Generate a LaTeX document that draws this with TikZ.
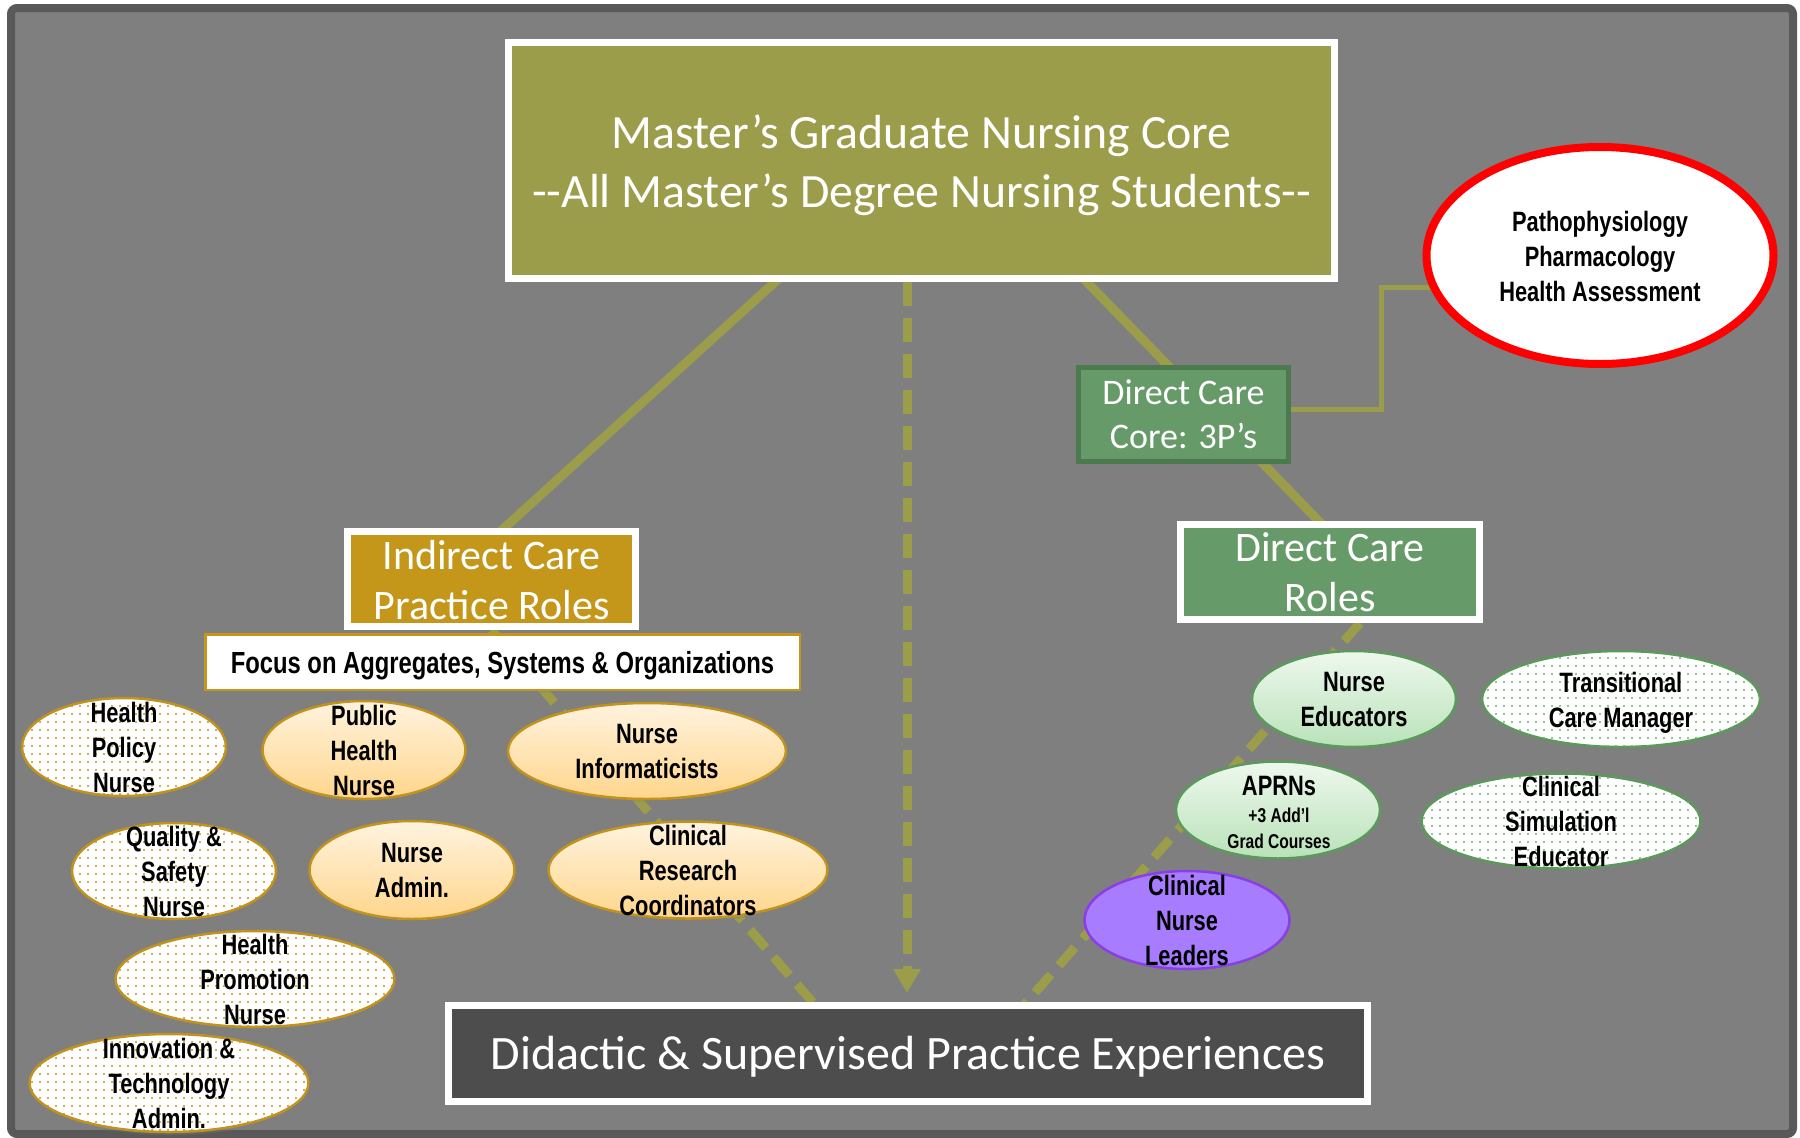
\documentclass[tikz,border=0pt]{standalone}
\usepackage{fontspec}
\setmainfont{Carlito}
\newfontfamily\condfont[FakeStretch=0.78]{Liberation Sans}
\usetikzlibrary{shapes.geometric,arrows.meta,patterns.meta,shadows}
\pgfdeclarelayer{bg}\pgfdeclarelayer{lines}
\pgfsetlayers{bg,lines,main}
\definecolor{bggray}{HTML}{7F7F7F}
\definecolor{framecol}{HTML}{595959}
\definecolor{olive}{HTML}{9B9D4B}
\definecolor{gold}{HTML}{C49619}
\definecolor{goldline}{HTML}{C0921E}
\definecolor{boxgreen}{HTML}{679A69}
\definecolor{darkgreen}{HTML}{4C7A4E}
\definecolor{darkbox}{HTML}{4D4D4D}
\definecolor{purplefill}{HTML}{A87CFF}
\definecolor{purpleline}{HTML}{8A3FE6}
\definecolor{peachtop}{HTML}{FFF3DF}
\definecolor{peachbot}{HTML}{FFD68C}
\definecolor{greentop}{HTML}{EEF8EE}
\definecolor{greenbot}{HTML}{B9E2B9}
\definecolor{greenline}{HTML}{5C9A5C}
\definecolor{dotgreen}{HTML}{6FAF6F}
\tikzset{
  shad/.style={drop shadow={shadow xshift=2pt,shadow yshift=-3pt,opacity=0.3}},
  wbox/.style={draw=white,line width=7pt,text=white,align=center,inner sep=0pt,shad},
  wtext/.style={text=white,align=center,inner sep=0pt},
  ell/.style={ellipse,inner sep=0pt,line width=2.5pt,shad},
  dotgold/.style={ell,draw=goldline,fill=white,postaction={pattern={Dots[distance=8pt,radius=1.1pt]},pattern color=goldline}},
  peach/.style={ell,draw=goldline,top color=peachtop,bottom color=peachbot},
  greengrad/.style={ell,draw=greenline,top color=greentop,bottom color=greenbot},
  dotgrn/.style={ell,draw=greenline,fill=white,postaction={pattern={Dots[distance=8pt,radius=1.1pt]},pattern color=dotgreen}},
  purp/.style={ell,draw=purpleline,fill=purplefill},
  etext/.style={font=\condfont\bfseries\fontsize{28}{35}\selectfont,align=center,inner sep=0pt,text=black},
  conn/.style={draw=olive,line width=9pt},
  dconn/.style={conn,dash pattern=on 24pt off 12pt},
}
\newcommand\roleell[7]{%
  \node[#6,minimum width=#4pt,minimum height=#5pt] (#1) at (#2,#3) {};
  \node[etext] (#1t) at (#1.center) {#7};}
\begin{document}
\begin{tikzpicture}[x=1pt,y=-1pt]
\useasboundingbox (0,0) rectangle (1800,1138);
\begin{pgfonlayer}{bg}
\fill[white] (0,0) rectangle (1800,1138);
\draw[draw=framecol,fill=bggray,line width=8pt,rounded corners=6pt] (11,8) rectangle (1793,1134);
\end{pgfonlayer}

% boxes
\node[wbox,fill=olive,minimum width=826pt,minimum height=236pt] (main) at (921.5,160.5) {};
\node[wtext,font=\fontsize{47.8}{59}\selectfont] (maint) at ([yshift=-4.5pt]main.center)
  {Master’s Graduate Nursing Core\\-\kern0pt-All Master’s Degree Nursing Students-\kern0pt-};
\node[wbox,fill=gold,minimum width=288pt,minimum height=95pt] (indirect) at (491.5,579) {};
\node[wtext,font=\fontsize{42}{50}\selectfont] (indirectt) at ([yshift=-1.5pt]indirect.center) {Indirect Care\\Practice Roles};
\node[draw=gold,line width=2.5pt,fill=white,inner sep=0pt,minimum width=594.5pt,minimum height=55.5pt,shad] (focus) at (502.5,662) {};
\node[inner sep=0pt,font=\condfont\bfseries\fontsize{30.5}{36}\selectfont] (focust) at ([yshift=-4pt]focus.center)
  {Focus on Aggregates, Systems \& Organizations};
\node[draw=darkgreen,line width=5pt,fill=boxgreen,inner sep=0pt,shad,
  minimum width=210pt,minimum height=94pt] (p3) at (1183.5,414.5) {};
\node[wtext,font=\fontsize{36}{44}\selectfont] (p3t) at (p3.center) {Direct Care\\Core: 3P’s};
\node[wbox,fill=boxgreen,minimum width=299pt,minimum height=95pt] (dcr) at (1330,572) {};
\node[wtext,font=\fontsize{42}{50}\selectfont] (dcrt) at (dcr.center) {Direct Care\\Roles};
\node[wbox,fill=darkbox,minimum width=919pt,minimum height=96pt] (didactic) at (908,1053.5) {};
\node[wtext,font=\fontsize{48}{58}\selectfont] (didactict) at ([yshift=-3pt]didactic.center)
  {Didactic \& Supervised Practice Experiences};

% red ellipse
\node[ellipse,draw=red,line width=8pt,fill=white,inner sep=0pt,minimum width=347pt,minimum height=217pt,shad] (patho) at (1600,255.5) {};
\node[etext] (pathot) at ([yshift=-1pt]patho.center) {Pathophysiology\\Pharmacology\\Health Assessment};

% indirect role ellipses
\roleell{hpol}{124}{747}{204}{98}{dotgold}{Health\\Policy\\Nurse}
\roleell{pub}{364}{750}{203}{98}{peach}{Public\\Health\\Nurse}
\roleell{info}{647}{751}{278}{96}{peach}{Nurse\\Informaticists}
\roleell{qual}{174}{871}{204}{96}{dotgold}{Quality \&\\Safety\\Nurse}
\roleell{admin}{412}{870}{205}{98}{peach}{Nurse\\Admin.}
\roleell{cres}{688}{870}{279}{97}{peach}{Clinical\\Research\\Coordinators}
\roleell{hprom}{255}{979}{279}{96}{dotgold}{Health\\Promotion\\Nurse}
\roleell{innov}{169}{1083}{279}{98}{dotgold}{Innovation \&\\Technology\\Admin.}

% direct role ellipses
\roleell{nedu}{1354}{699}{204}{96}{greengrad}{Nurse\\Educators}
\node[dotgrn,minimum width=278pt,minimum height=96pt] (trans) at (1621,699) {};
\node[etext] (transt) at ([yshift=-4pt]trans.center) {Transitional\\Care Manager};
\node[greengrad,minimum width=204pt,minimum height=97pt] (aprn) at (1278,810) {};
\node[etext,anchor=base] (aprnt1) at (1279,795) {APRNs};
\node[etext,anchor=base,font=\condfont\bfseries\fontsize{20}{24}\selectfont] (aprnt2) at (1279,822) {+3 Add’l};
\node[etext,anchor=base,font=\condfont\bfseries\fontsize{20}{24}\selectfont] (aprnt3) at (1279,848) {Grad Courses};
\roleell{csim}{1561}{821}{279}{95}{dotgrn}{Clinical\\Simulation\\Educator}
\roleell{cnl}{1187}{920}{205}{98}{purp}{Clinical\\Nurse\\Leaders}

% connectors
\begin{pgfonlayer}{lines}
\draw[conn] ([xshift=-124.5pt,yshift=20pt]main.south) -- ([xshift=-11.5pt,yshift=-22pt]indirect.north);
\draw[conn] ([xshift=146pt,yshift=20pt]main.south) -- ([xshift=12pt,yshift=-24pt]dcr.north);
\draw[dconn,-{Triangle[width=26pt,length=24pt]}] ([xshift=-14.5pt]main.south) -- ([xshift=-1pt,yshift=9pt]didactic.north);
\draw[dconn] (indirect.south) -- ([xshift=-87pt,yshift=-10pt]didactic.north);
\draw[dconn] ([xshift=30pt]dcr.south) -- ([xshift=110pt,yshift=-10pt]didactic.north);
\coordinate (elb) at (1381,287);
\draw[draw=olive,line width=5pt] ([yshift=5.5pt]p3.east) -| (elb) -- (patho.center |- elb);
\end{pgfonlayer}
\end{tikzpicture}
\end{document}
